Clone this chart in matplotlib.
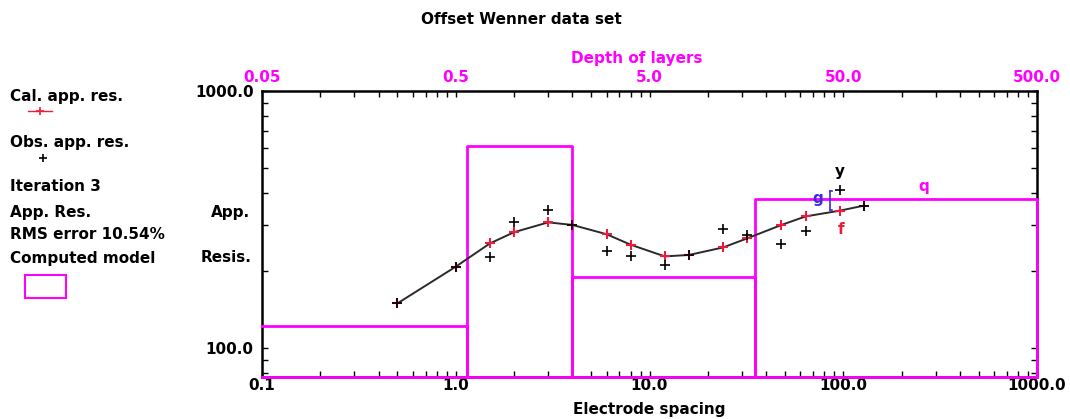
import numpy as np
import matplotlib
matplotlib.use("Agg")
import matplotlib.pyplot as plt
from matplotlib.lines import Line2D
from matplotlib.patches import Rectangle
from matplotlib.ticker import LogLocator, NullFormatter, FixedLocator, FixedFormatter

# data
spacing = [0.5, 1, 1.5, 2, 3, 4, 6, 8, 12, 16, 24, 32, 48, 64, 96, 128]
cal_res = [149, 207, 255, 282, 308, 301, 277, 252, 227, 230, 246, 267, 301, 325, 342, 358]
obs_res = [149, 207, 226, 308, 344, 301, 238, 228, 210, 230, 290, 274, 254, 284, 412, 358]

# computed layer model: depth of layer bottoms (m) and resistivities
layer_depth = [0.57, 2.0, 17.6]
layer_res = [122, 611, 189, 380]

x_ticks = [0.1, 1, 10, 100, 1000]
x_labels = ["0.1", "1.0", "10.0", "100.0", "1000.0"]
depth_ticks = [0.05, 0.5, 5, 50, 500]
depth_labels = ["0.05", "0.5", "5.0", "50.0", "500.0"]
y_ticks = [100, 1000]
y_labels = ["100.0", "1000.0"]

# constants
W, H = 1070, 419
XMIN, XMAX = 0.1, 1000
YMIN, YMAX = 77, 1000
MAGENTA = "#ff00ff"
RED = "#ee1c3c"
BLUE = "#3a2ee0"
FS = 11


def px(x, y):
    return x / W, 1 - y / H


fig = plt.figure(figsize=(W / 100, H / 100), dpi=100)
ax = fig.add_axes([262 / W, 1 - 377 / H, (1037 - 262) / W, (377 - 91) / H])
ax.set_xscale("log")
ax.set_yscale("log")
ax.set_xlim(XMIN, XMAX)
ax.set_ylim(YMIN, YMAX)

# model boxes (depth -> spacing is x2)
edges = [XMIN] + [d * 2 for d in layer_depth] + [XMAX]
for i, r in enumerate(layer_res):
    x0, x1 = edges[i], edges[i + 1]
    if i == 0:
        xs, ys = [x0, x1, x1], [r, r, YMIN]
    else:
        xs, ys = [x0, x0, x1, x1], [YMIN, r, r, YMIN]
    ax.plot(xs, ys, color=MAGENTA, lw=2, zorder=3, clip_on=False)
ax.plot([XMIN, XMAX], [YMIN, YMIN], color=MAGENTA, lw=2, zorder=3, clip_on=False)

# calculated curve and observed points
ax.plot(spacing, cal_res, color="#2a2a2a", lw=1.4, zorder=4)
ax.plot(spacing, cal_res, ls="none", marker="+", ms=7, mew=1.5, color=RED, zorder=5)
ax.plot(spacing, obs_res, ls="none", marker="+", ms=7, mew=1.2, color="black", zorder=6)

# little annotation letters
ax.text(96, 484, "y", color="black", fontsize=FS, fontweight="bold", ha="center", va="center")
ax.text(74, 380, "g", color=BLUE, fontsize=FS, fontweight="bold", ha="center", va="center")
ax.plot([85.5, 85.5], [344, 408], color=BLUE, lw=1.2, zorder=6)
ax.plot([85.5, 88], [408, 408], color=BLUE, lw=1.2, zorder=6)
ax.plot([85.5, 88], [344, 344], color=BLUE, lw=1.2, zorder=6)
ax.text(261, 423, "q", color=MAGENTA, fontsize=FS, fontweight="bold", ha="center", va="center")
ax.text(97, 290, "f", color=RED, fontsize=FS, fontweight="bold", ha="center", va="center")

# axes styling
for s in ax.spines.values():
    s.set_linewidth(1.8)
    s.set_color("black")
    s.set_zorder(2.5)
ax.xaxis.set_major_locator(FixedLocator(x_ticks))
ax.xaxis.set_major_formatter(FixedFormatter(x_labels))
ax.xaxis.set_minor_locator(LogLocator(base=10, subs=np.arange(2, 10)))
ax.xaxis.set_minor_formatter(NullFormatter())
ax.yaxis.set_major_locator(FixedLocator(y_ticks))
ax.yaxis.set_major_formatter(FixedFormatter(y_labels))
ax.yaxis.set_minor_locator(LogLocator(base=10, subs=np.arange(2, 10)))
ax.yaxis.set_minor_formatter(NullFormatter())
ax.tick_params(which="both", direction="in", top=True, right=True, length=4, width=1, color="black")
ax.tick_params(axis="x", which="major", labelsize=FS, pad=0.5)
ax.tick_params(axis="y", which="major", labelsize=FS, pad=6)
for lab in ax.get_xticklabels() + ax.get_yticklabels():
    lab.set_fontweight("bold")

sec = ax.secondary_xaxis("top", functions=(lambda x: x / 2, lambda x: x * 2))
sec.xaxis.set_major_locator(FixedLocator(depth_ticks))
sec.xaxis.set_major_formatter(FixedFormatter(depth_labels))
sec.xaxis.set_minor_locator(FixedLocator([]))
sec.tick_params(length=0, labelsize=FS, labelcolor=MAGENTA, pad=4)
for lab in sec.get_xticklabels():
    lab.set_fontweight("bold")
sec.spines["top"].set_visible(False)

# titles
fig.text(*px(521, 19), "Offset Wenner data set", fontsize=FS, fontweight="bold", ha="center", va="center")
fig.text(*px(637, 59), "Depth of layers", fontsize=FS, fontweight="bold", color=MAGENTA, ha="center", va="center")
fig.text(*px(649, 409), "Electrode spacing", fontsize=FS, fontweight="bold", ha="center", va="center")
fig.text(*px(250, 212), "App.", fontsize=FS, fontweight="bold", ha="right", va="center")
fig.text(*px(252, 258), "Resis.", fontsize=FS, fontweight="bold", ha="right", va="center")

# left legend panel
left_lines = [("Cal. app. res.", 97), ("Obs. app. res.", 142), ("Iteration 3", 186),
              ("App. Res.", 212), ("RMS error 10.54%", 234), ("Computed model", 259)]
for txt, yy in left_lines:
    fig.text(*px(10, yy), txt, fontsize=FS, fontweight="bold", ha="left", va="center")

x0, y0 = px(28, 111)
x1, _ = px(52, 111)
fig.add_artist(Line2D([x0, x1], [y0, y0], color=RED, lw=1, transform=fig.transFigure))
xm, ym = px(40, 111)
fig.add_artist(Line2D([xm], [ym], marker="+", ms=6, mew=1.2, color=RED, transform=fig.transFigure))
xo, yo = px(43, 158)
fig.add_artist(Line2D([xo], [yo], marker="+", ms=6, mew=1.2, color="black", transform=fig.transFigure))
rx, ry = px(25, 298)
fig.add_artist(Rectangle((rx, ry), 41 / W, 23 / H, fill=False, edgecolor=MAGENTA, lw=1.5,
                         transform=fig.transFigure))

fig.savefig("out.png", dpi=100, facecolor="white")
